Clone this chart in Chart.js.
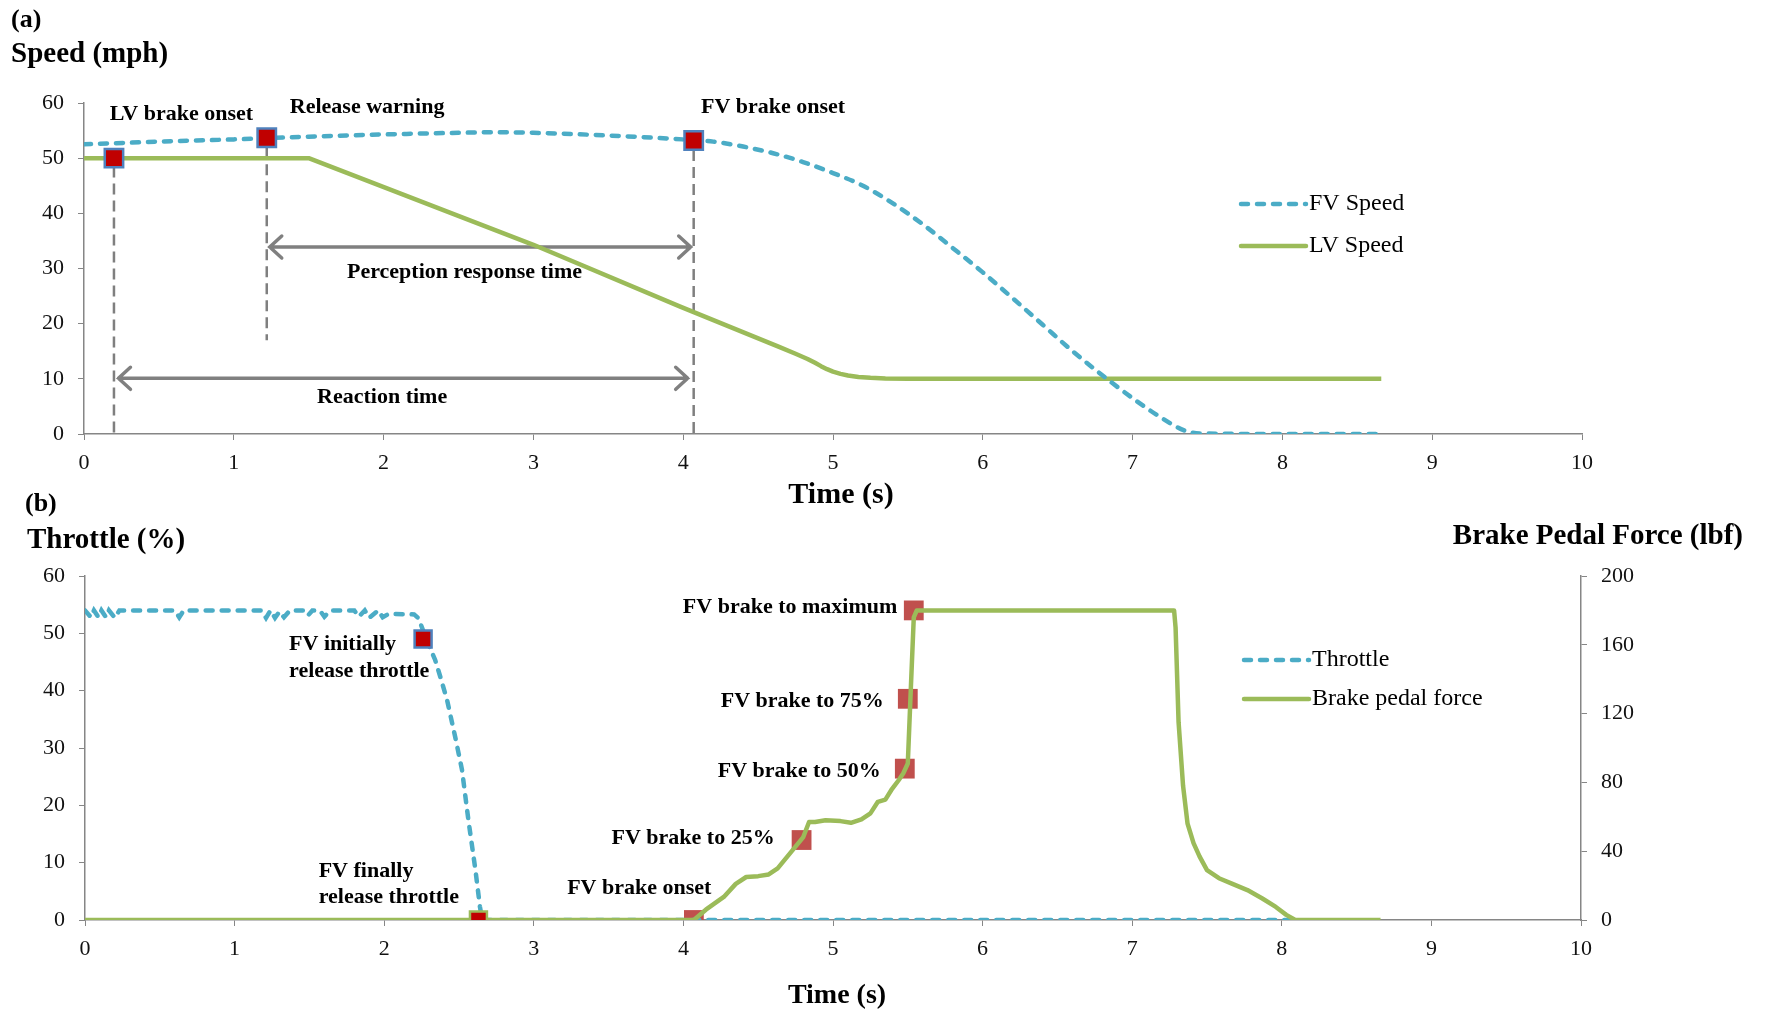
<!DOCTYPE html>
<html>
<head>
<meta charset="utf-8">
<script src="https://cdn.jsdelivr.net/npm/chart.js@4.4.1/dist/chart.umd.min.js"></script>
<style>
body{margin:0;background:#fff}
#wrap{position:relative;width:1765px;height:1010px;overflow:hidden;font-family:"Liberation Serif","Times New Roman",serif;color:#000}
canvas{position:absolute;left:0}
.lbl{position:absolute;font-weight:bold;white-space:nowrap;line-height:1}
</style>
</head>
<body>
<div id="wrap">
  <canvas id="speedChart" width="1765" height="500" style="top:0"></canvas>
  <canvas id="pedalChart" width="1765" height="510" style="top:500px"></canvas>
  <div class="lbl" style="left:11px;top:6px;font-size:26px">(a)</div>
  <div class="lbl" style="left:11px;top:38px;font-size:29px">Speed (mph)</div>
  <div class="lbl" style="left:841px;top:478px;font-size:30px;transform:translateX(-50%)">Time (s)</div>
  <div class="lbl" style="left:25px;top:490px;font-size:26px">(b)</div>
  <div class="lbl" style="left:27px;top:524px;font-size:29px">Throttle (%)</div>
  <div class="lbl" style="right:22px;top:520px;font-size:29px">Brake Pedal Force (lbf)</div>
  <div class="lbl" style="left:837px;top:980px;font-size:28px;transform:translateX(-50%)">Time (s)</div>
</div>
<script>
// (a) speeds
const fvTime  = [0, 0.5, 1.0, 1.5, 2.0, 2.5, 2.75, 3.0, 3.5, 4.0, 4.2, 4.4, 4.6, 4.8, 5.0, 5.2, 5.4, 5.6, 5.8, 6.0, 6.2, 6.4, 6.6, 6.8, 7.0, 7.2, 7.35, 7.45, 8.0, 8.66];
const fvSpeed = [52.5, 53.0, 53.4, 53.9, 54.3, 54.6, 54.7, 54.6, 54.1, 53.4, 53.0, 52.1, 50.9, 49.3, 47.3, 45.0, 41.8, 38.0, 33.7, 29.3, 24.6, 19.8, 15.0, 10.6, 6.5, 2.8, 0.6, 0.1, 0, 0];
const lvTime  = [0, 1.5, 3.0, 3.98, 4.64, 4.75, 4.83, 4.88, 4.92, 4.96, 5.0, 5.05, 5.1, 5.17, 5.25, 5.35, 5.5, 8.66];
const lvSpeed = [50, 50, 34.3, 23.1, 15.8, 14.55, 13.6, 12.9, 12.3, 11.75, 11.3, 10.9, 10.6, 10.35, 10.18, 10.07, 10, 10];
const eventTimeA  = [0.2, 1.22, 4.07];
const eventSpeedA = [50, 53.7, 53.2];

// (b) throttle (%) and brake pedal force (lbf)
const thrTime = [0, 0.04, 0.06, 0.09, 0.11, 0.14, 0.16, 0.2, 0.23, 0.6, 0.63, 0.66, 1.18, 1.21, 1.24, 1.27, 1.3, 1.33, 1.37, 1.46, 1.49, 1.52, 1.57, 1.6, 1.64, 1.8, 1.83, 1.87, 1.9, 1.96, 1.99, 2.03, 2.2, 2.23, 2.26, 2.3, 2.34, 2.38, 2.42, 2.474, 2.52, 2.563, 2.61, 2.64, 2.655, 8.05];
const thrPct  = [54, 52.8, 54, 52.8, 54, 52.8, 54, 52.7, 54, 54, 52.8, 54, 54, 52.7, 54, 52.7, 53.8, 52.8, 54, 54, 53.1, 54, 54, 52.9, 54, 54, 52.9, 54, 52.7, 54, 52.8, 53.4, 53.3, 52.6, 50.5, 47.8, 45.4, 42.0, 38.4, 32.0, 26.2, 17.4, 8.7, 2.3, 0, 0];
const brkTime  = [0, 4.07, 4.15, 4.27, 4.35, 4.42, 4.5, 4.57, 4.63, 4.73, 4.8, 4.84, 4.88, 4.95, 5.05, 5.12, 5.19, 5.25, 5.3, 5.35, 5.39, 5.44, 5.47, 5.5, 5.52, 5.54, 5.56, 7.28, 7.29, 7.31, 7.34, 7.37, 7.41, 7.45, 7.5, 7.58, 7.67, 7.77, 7.87, 7.96, 8.03, 8.09, 8.66];
const brkForce = [0, 0, 6, 13.4, 21, 25, 25.5, 26.5, 30, 40.6, 48, 57, 57, 58, 57.5, 56.5, 58.5, 62, 68.7, 70, 75.6, 81.4, 85.3, 91, 134, 176, 180, 180, 170, 115, 78, 56, 44.7, 37, 29, 24.3, 21, 17.4, 12.5, 7.6, 3, 0, 0];
const thrEventTime = [2.26, 2.63];
const thrEventPct  = [49, 0];
const brkEventTime  = [4.07, 4.79, 5.48, 5.5, 5.54];
const brkEventForce = [0, 46.5, 88, 128.6, 180];

const BLUE = '#4BACC6', GREEN = '#9BBB59', RED = '#C00000', EDGE = '#4F81BD', BRK = '#C0504D', AXIS = '#868686';
const SERIF = '"Liberation Serif","Times New Roman",serif';

function pts(xs, ys){ return xs.map((x,i)=>({x, y:ys[i]})); }

const annotate = {
  id:'annotate',
  beforeDatasetsDraw(chart, args, o){
    const {ctx, scales} = chart;
    const x = scales.x, y = scales.y;
    ctx.save();
    ctx.strokeStyle = '#7f7f7f';
    ctx.lineWidth = 2.5;
    ctx.setLineDash([11,6]);
    (o.guides||[]).forEach(g=>{
      const px = x.getPixelForValue(g[0]);
      ctx.beginPath();
      ctx.moveTo(px, y.getPixelForValue(g[1]));
      ctx.lineTo(px, y.getPixelForValue(g[2]));
      ctx.stroke();
    });
    ctx.setLineDash([]);
    ctx.strokeStyle = '#808080';
    ctx.lineWidth = 3.5;
    ctx.lineCap = 'round';
    (o.arrows||[]).forEach(a=>{
      const x0 = x.getPixelForValue(a[0]), x1 = x.getPixelForValue(a[1]), py = y.getPixelForValue(a[2]);
      ctx.beginPath();
      ctx.moveTo(x0, py); ctx.lineTo(x1, py);
      ctx.moveTo(x0+12, py-11); ctx.lineTo(x0, py); ctx.lineTo(x0+12, py+11);
      ctx.moveTo(x1-12, py-11); ctx.lineTo(x1, py); ctx.lineTo(x1-12, py+11);
      ctx.stroke();
    });
    ctx.restore();
  },
  afterDatasetsDraw(chart, args, o){
    const {ctx, scales} = chart;
    const x = scales.x, y = scales.y;
    ctx.save();
    ctx.fillStyle = '#000';
    ctx.textBaseline = 'middle';
    ctx.font = 'bold 22px ' + SERIF;
    (o.labels||[]).forEach(l=>{
      ctx.textAlign = l.align || 'center';
      ctx.fillText(l.text, x.getPixelForValue(l.t), y.getPixelForValue(l.v));
    });
    const lg = o.legend;
    if(lg){
      ctx.font = '24px ' + SERIF;
      ctx.textAlign = 'left';
      lg.items.forEach(it=>{
        ctx.strokeStyle = it.color;
        ctx.lineWidth = 4.5;
        ctx.lineCap = 'round';
        ctx.setLineDash(it.dashed ? [7,9] : []);
        ctx.beginPath();
        ctx.moveTo(lg.x, it.y); ctx.lineTo(lg.x + lg.w, it.y);
        ctx.stroke();
        ctx.fillText(it.text, lg.x + lg.w + 3, it.y);
      });
    }
    ctx.restore();
  }
};

function xAxis(h){
  return {
    type:'linear', min:0, max:10,
    border:{display:true, color:AXIS, width:1.5},
    grid:{drawOnChartArea:false, drawTicks:true, tickLength:6, color:AXIS},
    ticks:{stepSize:1, padding:10, color:'#111', font:{family:SERIF, size:22}},
    afterFit:s=>{ s.height = h; }
  };
}
function yAxis(pos, max, step, w){
  return {
    type:'linear', position:pos, min:0, max:max,
    border:{display:true, color:AXIS, width:1.5},
    grid:{drawOnChartArea:false, drawTicks:true, tickLength:6, color:AXIS},
    ticks:{stepSize:step, padding:14, color:'#111', font:{family:SERIF, size:22}},
    afterFit:s=>{ s.width = w; }
  };
}

new Chart(document.getElementById('speedChart'), {
  type:'line',
  data:{ datasets:[
    { label:'FV Speed', data:pts(fvTime, fvSpeed), borderColor:BLUE, borderWidth:4.5, borderDash:[7,9], borderCapStyle:'round', pointRadius:0, cubicInterpolationMode:'monotone', order:2 },
    { label:'LV Speed', data:pts(lvTime, lvSpeed), borderColor:GREEN, borderWidth:4.5, borderJoinStyle:'round', pointRadius:0, tension:0, order:2 },
    { type:'scatter', label:'Events', data:pts(eventTimeA, eventSpeedA), pointStyle:'rect', pointRadius:13, backgroundColor:RED, borderColor:EDGE, borderWidth:2.5, order:1 }
  ]},
  options:{
    responsive:false, animation:false, devicePixelRatio:1, events:[],
    layout:{ padding:{ left:0, right:183, top:103, bottom:0 } },
    plugins:{
      legend:{display:false}, tooltip:{enabled:false},
      annotate:{
        guides:[[0.2, 48.5, 0], [1.22, 52, 17], [4.07, 51.5, 0]],
        arrows:[[1.24, 4.05, 33.9], [0.23, 4.03, 10.1]],
        labels:[
          {text:'LV brake onset', t:0.65, v:58.0},
          {text:'Release warning', t:1.89, v:59.2},
          {text:'FV brake onset', t:4.6, v:59.2},
          {text:'Perception response time', t:2.54, v:29.3},
          {text:'Reaction time', t:1.99, v:6.7}
        ],
        legend:{ x:1241, w:65, items:[
          {text:'FV Speed', color:BLUE, dashed:true, y:204},
          {text:'LV Speed', color:GREEN, dashed:false, y:246}
        ]}
      }
    },
    scales:{ x:xAxis(66), y:yAxis('left', 60, 10, 84) }
  },
  plugins:[annotate]
});

new Chart(document.getElementById('pedalChart'), {
  type:'line',
  data:{ datasets:[
    { type:'scatter', label:'Brake events', data:pts(brkEventTime, brkEventForce), yAxisID:'y2', pointStyle:'rect', pointRadius:14, backgroundColor:BRK, borderWidth:0, order:4 },
    { label:'Throttle', data:pts(thrTime, thrPct), yAxisID:'y', borderColor:BLUE, borderWidth:4.5, borderDash:[7,9], borderCapStyle:'round', pointRadius:0, tension:0, order:3 },
    { label:'Brake pedal force', data:pts(brkTime, brkForce), yAxisID:'y2', borderColor:GREEN, borderWidth:4.5, borderJoinStyle:'round', pointRadius:0, tension:0, order:2 },
    { type:'scatter', label:'Throttle events', data:pts(thrEventTime, thrEventPct), yAxisID:'y', pointStyle:'rect', pointRadius:12, backgroundColor:RED, borderColor:[EDGE, GREEN], borderWidth:2.5, order:1 }
  ]},
  options:{
    responsive:false, animation:false, devicePixelRatio:1, events:[],
    layout:{ padding:{ left:0, right:104, top:76, bottom:0 } },
    plugins:{
      legend:{display:false}, tooltip:{enabled:false},
      annotate:{
        labels:[
          {text:'FV initially', t:1.364, v:48.0, align:'left'},
          {text:'release throttle', t:1.364, v:43.3, align:'left'},
          {text:'FV finally', t:1.562, v:8.5, align:'left'},
          {text:'release throttle', t:1.562, v:4.0, align:'left'},
          {text:'FV brake onset', t:3.705, v:5.5},
          {text:'FV brake to 25%', t:4.61, v:14.2, align:'right'},
          {text:'FV brake to 50%', t:5.32, v:26.0, align:'right'},
          {text:'FV brake to 75%', t:5.34, v:38.2, align:'right'},
          {text:'FV brake to maximum', t:5.43, v:54.5, align:'right'}
        ],
        legend:{ x:1244, w:65, items:[
          {text:'Throttle', color:BLUE, dashed:true, y:160},
          {text:'Brake pedal force', color:GREEN, dashed:false, y:199}
        ]}
      }
    },
    scales:{ x:xAxis(90), y:yAxis('left', 60, 10, 85), y2:yAxis('right', 200, 40, 80) }
  },
  plugins:[annotate]
});
</script>
</body>
</html>
